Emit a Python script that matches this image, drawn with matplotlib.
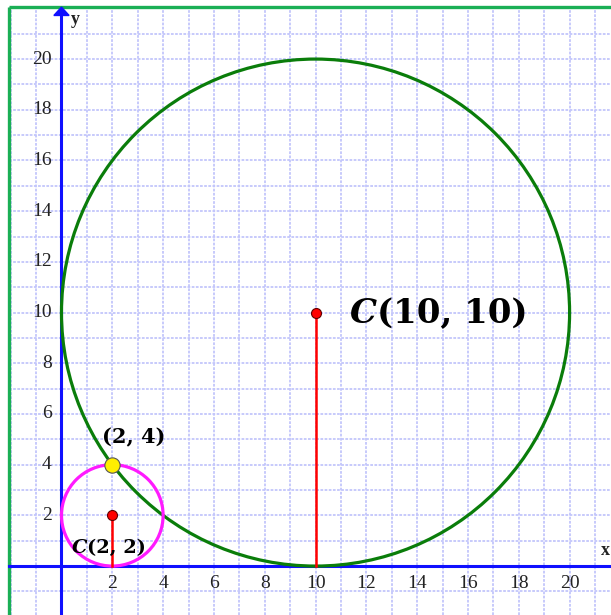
import numpy as np
import matplotlib.pyplot as plt
from matplotlib.patches import Circle, Polygon

# data
centre_x = [10, 2]
centre_y = [10, 2]
radii = [10, 2]
circle_colours = ["#0a7d0a", "#ff1aff"]
centre_labels = ["(10, 10)", "(2, 2)"]
touch_x = [2]
touch_y = [4]
touch_label = "(2, 4)"
tick_values = list(range(2, 21, 2))

fig = plt.figure(figsize=(6.11, 6.15), dpi=100)
ax = fig.add_axes([0, 0, 1, 1])
ax.set_xlim(-2.42, 21.63)
ax.set_ylim(-1.93, 22.33)
ax.axis("off")

# grid med prikkede linjer
left, top = -2.08, 22.07
grid_col = "#c3c6fb"
for gx in range(-2, 22):
    ax.plot([gx, gx], [-1.93, top], color=grid_col, lw=1.3, ls=(0, (1.5, 0.8)), zorder=1)
for gy in range(-1, 23):
    ax.plot([left, 21.63], [gy, gy], color=grid_col, lw=1.3, ls=(0, (1.5, 0.8)), zorder=1)

# grønn ramme (venstre og topp)
ax.plot([left, left], [-1.93, top], color="#1aaf55", lw=2.4, zorder=2, solid_capstyle="butt")
ax.plot([left, 21.63], [top, top], color="#1aaf55", lw=2.4, zorder=2, solid_capstyle="butt")

# akser
ax.plot([left, 21.63], [0, 0], color="#1010ff", lw=2.2, zorder=3)
ax.plot([0, 0], [-1.93, 21.8], color="#1010ff", lw=2.2, zorder=3)
ax.add_patch(Polygon([[-0.3, 21.72], [0.3, 21.72], [0, 22.05]], closed=True,
                     color="#1010ff", zorder=3))
ax.text(0.55, 21.55, "y", fontsize=13, family="Liberation Serif", fontweight="bold",
        ha="center", va="center", color="#222222")
ax.text(21.4, 0.6, "x", fontsize=13, family="Liberation Serif", fontweight="bold",
        ha="center", va="center", color="#222222")

# tall på aksene
for t in tick_values:
    ax.text(-0.38, t, str(t), fontsize=14, family="Liberation Serif",
            ha="right", va="center", color="#222222")
    ax.text(t, -0.67, str(t), fontsize=14, family="Liberation Serif",
            ha="center", va="center", color="#222222")

# sirkler
for cx, cy, r, c in zip(centre_x, centre_y, radii, circle_colours):
    ax.add_patch(Circle((cx, cy), r, fill=False, edgecolor=c, lw=2.3, zorder=4))

# radier og sentrum
for cx, cy in zip(centre_x, centre_y):
    ax.plot([cx, cx], [0, cy], color="#ff0000", lw=1.8, zorder=5)
ax.plot(centre_x, centre_y, "o", ms=7.2, color="#ff0000", mec="#600000", mew=0.8, zorder=6)

ax.plot(touch_x, touch_y, "o", ms=11, color="#ffee00", mec="#555555", mew=0.8, zorder=6)

# tekster
t1 = ax.text(11.35, 9.59, "C", fontsize=24.5, family="DejaVu Serif", fontweight="bold",
             fontstyle="italic", ha="left", va="baseline", zorder=7)
ax.annotate(centre_labels[0], xy=(1, 0), xycoords=t1, fontsize=24.5, family="DejaVu Serif",
            fontweight="bold", ha="left", va="bottom", zorder=7)

t2 = ax.text(0.41, 0.51, "C", fontsize=14, family="DejaVu Serif", fontweight="bold",
             fontstyle="italic", ha="left", va="baseline", zorder=7)
ax.annotate(centre_labels[1], xy=(1, 0), xycoords=t2, fontsize=14, family="DejaVu Serif",
            fontweight="bold", ha="left", va="bottom", zorder=7)

ax.text(1.6, 4.85, touch_label, fontsize=15, family="DejaVu Serif", fontweight="bold",
        ha="left", va="baseline", zorder=7)

fig.savefig("out.png", dpi=100)
